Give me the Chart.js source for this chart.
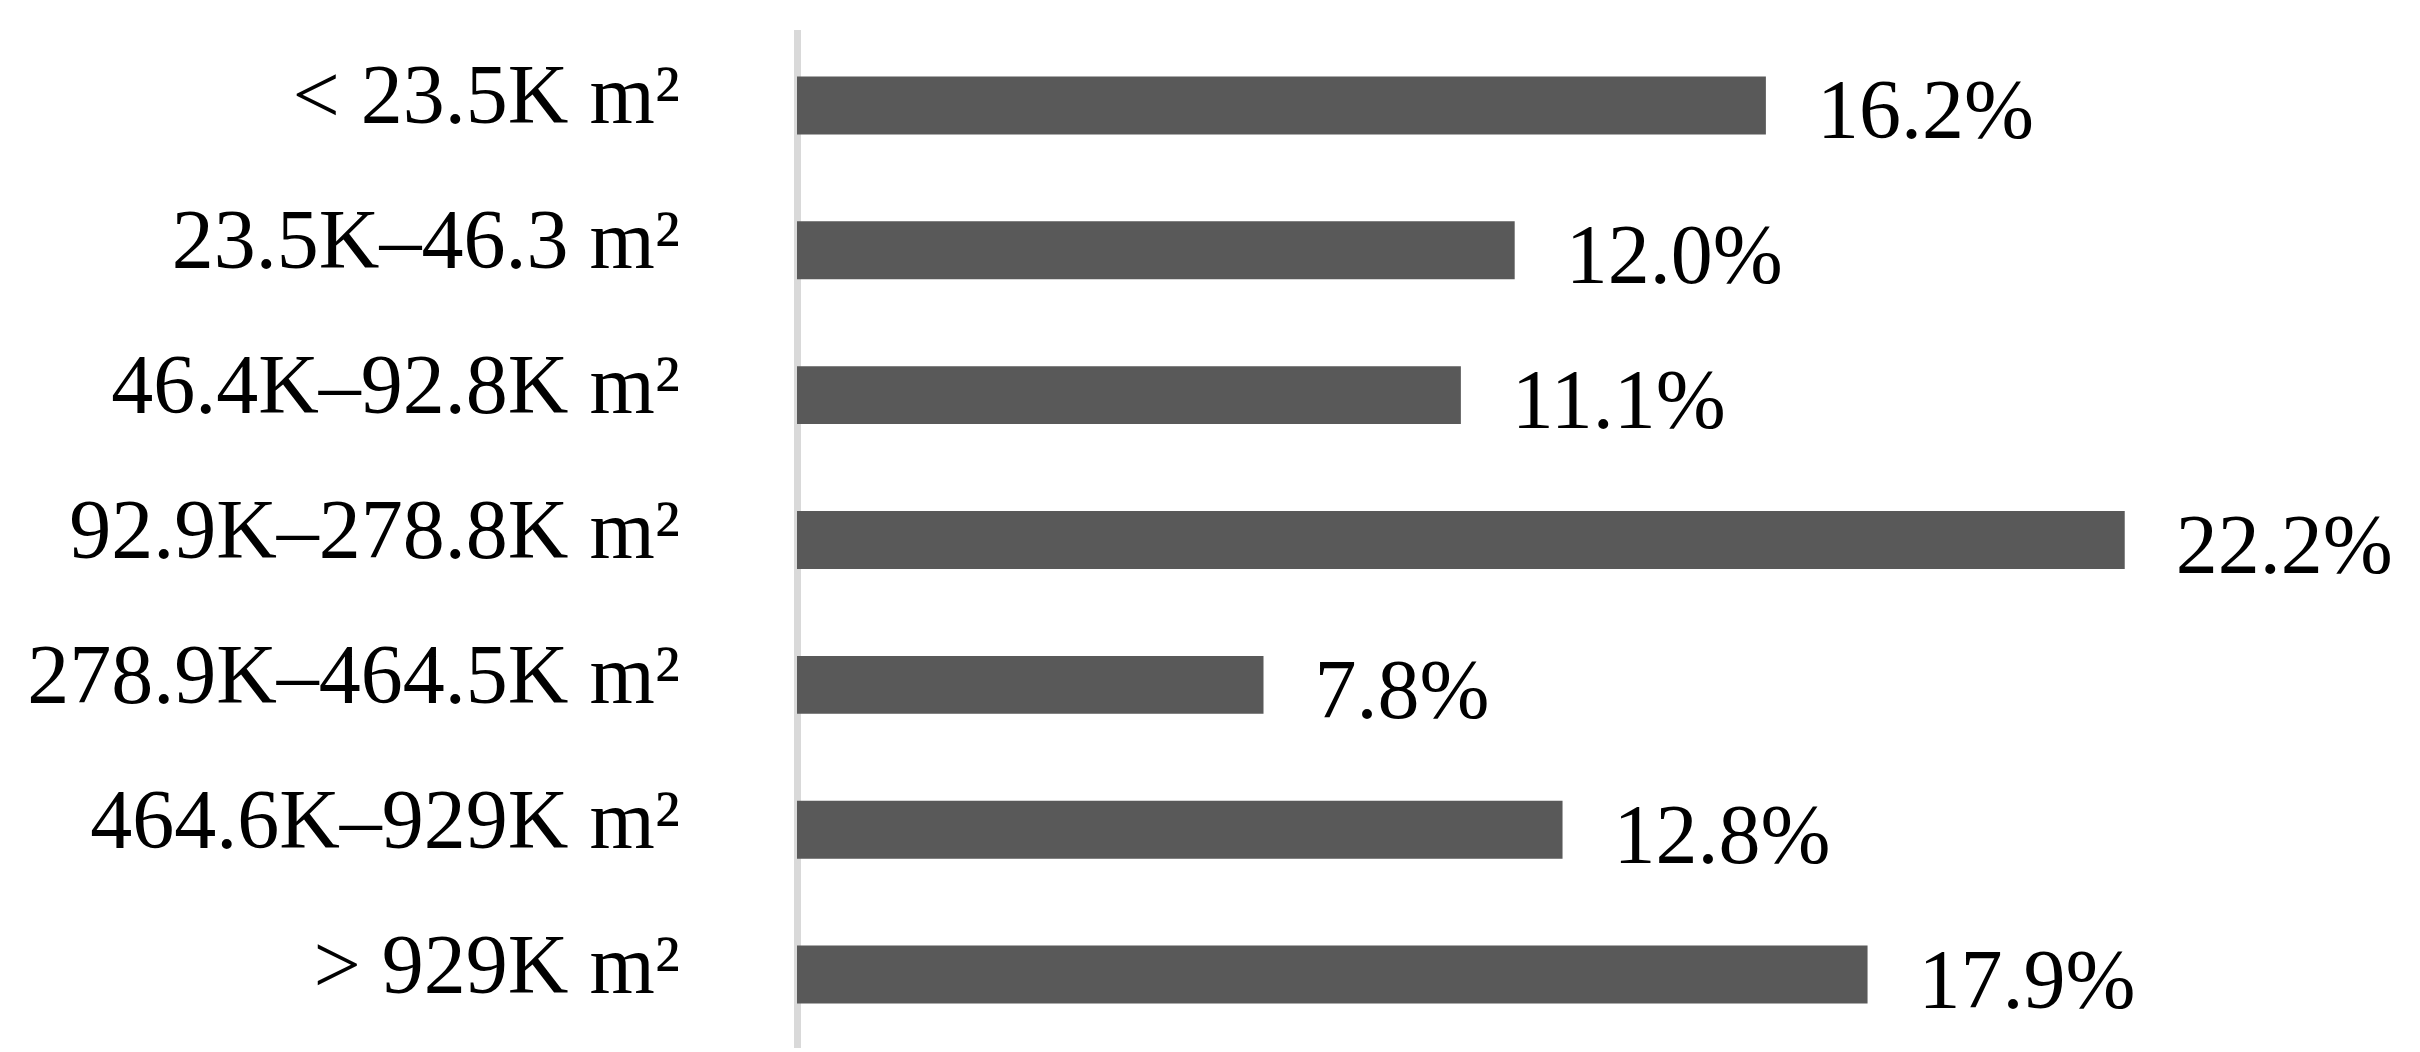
<!DOCTYPE html>
<html>
<head>
<meta charset="utf-8">
<script src="https://cdn.jsdelivr.net/npm/chart.js@4"></script>
<style>
  html, body { margin: 0; padding: 0; background: #fff; }
  #wrap { width: 2420px; height: 1052px; position: relative; }
</style>
</head>
<body>
<div id="wrap"><canvas id="chart"></canvas></div>
<script>
// data
const categories = [
  '< 23.5K m²',
  '23.5K–46.3 m²',
  '46.4K–92.8K m²',
  '92.9K–278.8K m²',
  '278.9K–464.5K m²',
  '464.6K–929K m²',
  '> 929K m²'
];
const shares = [16.2, 12.0, 11.1, 22.2, 7.8, 12.8, 17.9];

const FONT = "'Liberation Serif', 'Times New Roman', serif";

// value labels at the end of each bar
const valueLabels = {
  id: 'valueLabels',
  afterDatasetsDraw(chart) {
    const ctx = chart.ctx;
    const meta = chart.getDatasetMeta(0);
    ctx.save();
    ctx.font = `84px ${FONT}`;
    ctx.fillStyle = '#000';
    ctx.textAlign = 'left';
    ctx.textBaseline = 'alphabetic';
    meta.data.forEach((bar, i) => {
      ctx.fillText(shares[i].toFixed(1) + '%', bar.x + 51, bar.y + 33);
    });
    ctx.restore();
  }
};

new Chart(document.getElementById('chart'), {
  type: 'bar',
  data: {
    labels: categories,
    datasets: [{
      data: shares,
      backgroundColor: '#595959',
      borderWidth: 0,
      categoryPercentage: 1,
      barPercentage: 0.4
    }]
  },
  options: {
    indexAxis: 'y',
    responsive: true,
    maintainAspectRatio: false,
    animation: false,
    layout: { padding: { top: 33, bottom: 5, left: 0, right: 68 } },
    plugins: { legend: { display: false }, tooltip: { enabled: false } },
    scales: {
      x: { display: false, min: 0, max: 26 },
      y: {
        grid: { display: false },
        border: { display: true, color: '#d9d9d9', width: 7 },
        ticks: {
          color: '#000',
          font: { family: FONT, size: 84 },
          padding: 109,
          labelOffset: -4,
          autoSkip: false
        },
        afterFit(scale) {
          scale.width = 797;
          scale.paddingTop = 0;
          scale.paddingBottom = 0;
        }
      }
    }
  },
  plugins: [valueLabels]
});
</script>
</body>
</html>
